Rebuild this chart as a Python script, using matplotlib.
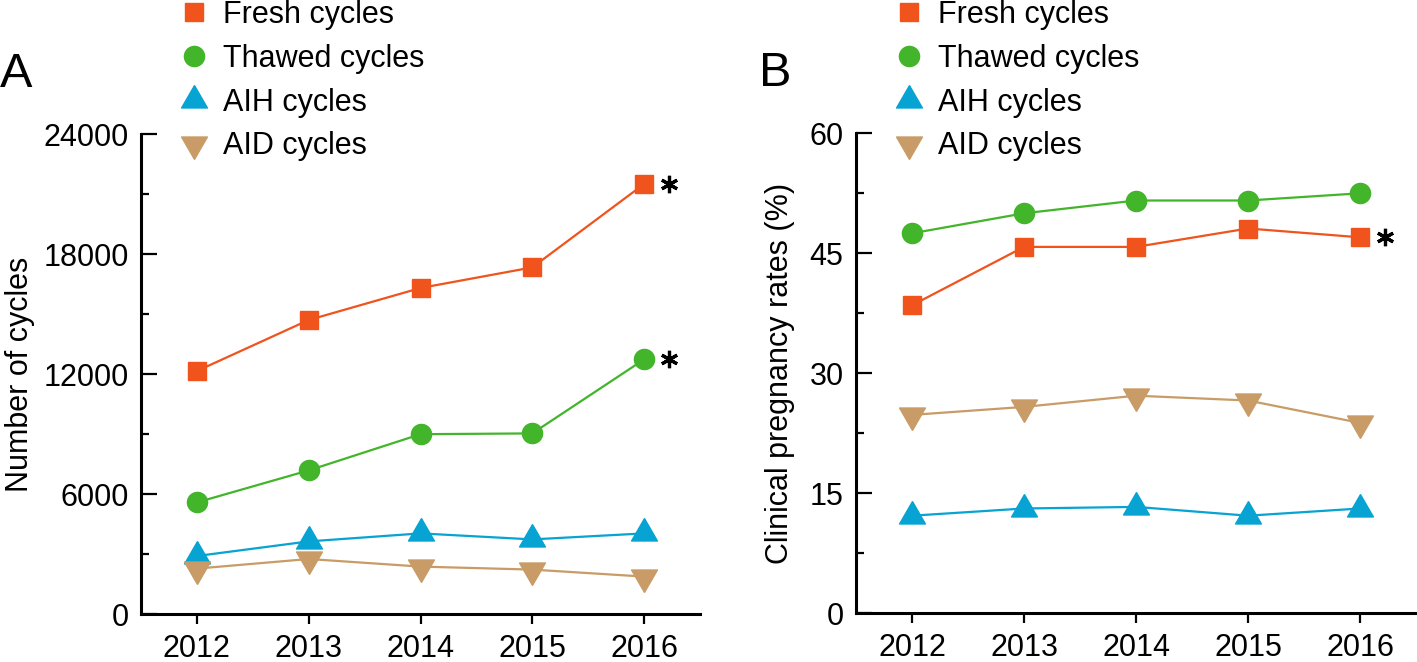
import matplotlib
matplotlib.use("Agg")
import matplotlib.pyplot as plt
from matplotlib.lines import Line2D
from matplotlib.ticker import MultipleLocator
from matplotlib.transforms import ScaledTranslation

plt.rcParams['font.family'] = ['Liberation Sans', 'DejaVu Sans']

years = [2012, 2013, 2014, 2015, 2016]

# panel A: number of cycles
fresh_cycles = [12150, 14700, 16300, 17330, 21500]
thawed_cycles = [5580, 7180, 8990, 9030, 12730]
aih_cycles = [2900, 3630, 4030, 3730, 4030]
aid_cycles = [2270, 2750, 2370, 2220, 1870]

# panel B: clinical pregnancy rates (%)
fresh_rate = [38.5, 45.8, 45.8, 48.1, 47.0]
thawed_rate = [47.5, 50.0, 51.6, 51.6, 52.5]
aih_rate = [12.2, 13.1, 13.3, 12.2, 13.1]
aid_rate = [24.8, 25.8, 27.2, 26.6, 23.8]

labels = ["Fresh cycles", "Thawed cycles", "AIH cycles", "AID cycles"]
colors = ['#F0531C', '#42B52B', '#06A3D3', '#C89B67']

# equilateral triangles centred on their centroid
tri_up = [(0, 0.577), (-0.5, -0.289), (0.5, -0.289), (0, 0.577)]
tri_down = [(0, -0.577), (-0.5, 0.289), (0.5, 0.289), (0, -0.577)]
markers = ['s', 'o', tri_up, tri_down]
msizes = [13, 14.5, 21.5, 21.5]

W, H = 1417, 662
fig = plt.figure(figsize=(W / 100, H / 100), dpi=100)
axA = fig.add_axes([141 / W, 48 / H, 559 / W, 480 / H])
axB = fig.add_axes([856 / W, 48.7 / H, 560 / W, 480 / H])

FS = 22


def draw_panel(ax, series, ylim, major, minor, ylabel, label_x, stars, legend_x):
    for vals, c, m, ms in zip(series, colors, markers, msizes):
        ax.plot(years, vals, color=c, lw=1.6, marker=m, ms=ms, mec=c,
                mfc=c, clip_on=False, zorder=3)
    off = ax.transData + ScaledTranslation(25 / 100, 0, fig.dpi_scale_trans)
    for idx in stars:
        ax.plot(years[-1], series[idx][-1], marker=(6, 2, 0), ms=12.5,
                mew=2.3, color='black', transform=off, clip_on=False)

    ax.set_xlim(2011.5, 2016.5)
    ax.set_ylim(*ylim)
    ax.set_xticks(years)
    ax.set_xticklabels([str(y) for y in years])
    ax.yaxis.set_major_locator(MultipleLocator(major))
    ax.yaxis.set_minor_locator(MultipleLocator(minor))
    for s in ['top', 'right']:
        ax.spines[s].set_visible(False)
    for s in ['left', 'bottom']:
        ax.spines[s].set_linewidth(2.2)
    ax.tick_params(axis='y', which='major', direction='in', length=11.3,
                   width=1.6, labelsize=FS, pad=9)
    ax.tick_params(axis='y', which='minor', direction='in', length=6,
                   width=1.6)
    ax.tick_params(axis='x', which='major', direction='out', length=7.2,
                   width=1.6, labelsize=FS, pad=7)
    ax.set_ylabel(ylabel, fontsize=FS)
    ax.yaxis.set_label_coords(label_x, 0.5)

    handles = [Line2D([], [], ls='none', marker=m, ms=ms, color=c, mec=c)
               for c, m, ms in zip(colors, markers, msizes)]
    ax.legend(handles, labels, loc='upper left', frameon=False,
              fontsize=FS, handlelength=0, handletextpad=0.95,
              labelspacing=0.45, borderpad=0, borderaxespad=0,
              bbox_to_anchor=(legend_x / W, 1.0),
              bbox_transform=fig.transFigure)


draw_panel(axA, [fresh_cycles, thawed_cycles, aih_cycles, aid_cycles],
           (0, 24000), 6000, 3000, "Number of cycles", -0.189, [0, 1], 193.5)
draw_panel(axB, [fresh_rate, thawed_rate, aih_rate, aid_rate],
           (0, 60), 15, 7.5, "Clinical pregnancy rates (%)", -0.109, [0], 909)

fig.text(0, 1 - 87 / H, "A", fontsize=35, va='baseline')
fig.text(759 / W, 1 - 86 / H, "B", fontsize=35, va='baseline')

fig.savefig("out.png", dpi=100)
